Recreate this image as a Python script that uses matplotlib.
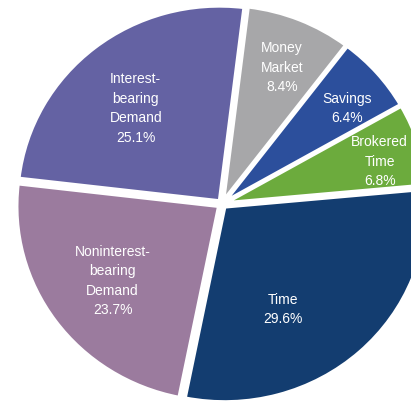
import numpy as np
import matplotlib
matplotlib.use('Agg')
import matplotlib.pyplot as plt

# deposit mix, clockwise from the top
categories = ['Money\nMarket', 'Savings', 'Brokered\nTime', 'Time',
              'Noninterest-\nbearing\nDemand', 'Interest-\nbearing\nDemand']
shares = [8.4, 6.4, 6.8, 29.6, 23.7, 25.1]

colors = ['#a7a7a9', '#2c4f9c', '#6cab3d', '#133d70', '#9b7b9e', '#6462a3']
label_radius = [0.74, 0.77, 0.79, 0.60, 0.65, 0.63]
label_turn = [1, 3, 2, 13, 0, -3]  # degrees, clockwise nudge

fig = plt.figure(figsize=(4.11, 4.05), dpi=100)
ax = fig.add_axes([0, 0, 1, 1])

wedges, _ = ax.pie(shares, colors=colors, startangle=83, counterclock=False,
                   explode=[0.02] * len(shares), radius=1.0,
                   wedgeprops=dict(edgecolor='white', linewidth=2.5))

for w, cat, val, r, turn in zip(wedges, categories, shares, label_radius, label_turn):
    mid = np.deg2rad((w.theta1 + w.theta2) / 2.0 - turn)
    cx, cy = w.center
    ax.text(cx + r * np.cos(mid), cy + r * np.sin(mid), '%s\n%.1f%%' % (cat, val),
            ha='center', va='center', color='white', fontsize=10,
            family='Liberation Sans', linespacing=1.5)

# the picture is a little flatter than round
sx, sy = 202.0, 195.0
cx0, cy0 = 222, 204
ax.set_xlim(-cx0 / sx, (411 - cx0) / sx)
ax.set_ylim(-(405 - cy0) / sy, cy0 / sy)
ax.set_aspect('auto')
ax.axis('off')

fig.savefig('out.png', dpi=100)
